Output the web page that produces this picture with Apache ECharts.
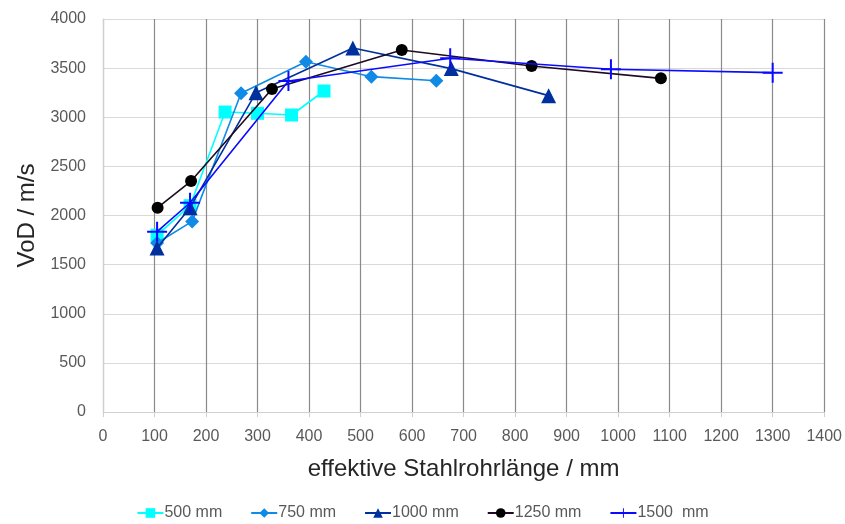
<!DOCTYPE html>
<html>
<head>
<meta charset="utf-8">
<script src="https://cdn.jsdelivr.net/npm/echarts@6/dist/echarts.min.js"></script>
<style>
  html, body { margin: 0; padding: 0; background: #ffffff; }
  #chart { width: 845px; height: 524px; }
</style>
</head>
<body>
<div id="chart"></div>
<script>
// Detonation velocity vs. effective steel tube length, one series per tube length
const seriesNames = ['500 mm', '750 mm', '1000 mm', '1250 mm', '1500  mm'];

const len500 = [105, 169, 237, 300, 366, 429];
const vod500 = [1800, 2100, 3053, 3040, 3023, 3267];

const len750 = [105, 173, 268, 394, 521, 647];
const vod750 = [1720, 1940, 3244, 3565, 3413, 3372];

const len1000 = [105, 169, 297, 485, 676, 865];
const vod1000 = [1670, 2080, 3250, 3705, 3495, 3220];

const len1250 = [106, 171, 328, 580, 832, 1083];
const vod1250 = [2080, 2351, 3287, 3684, 3522, 3396];

const len1500 = [105, 169, 360, 674, 986, 1300];
const vod1500 = [1835, 2130, 3369, 3600, 3488, 3454];

const xTicks = [0, 1400, 100];
const yTicks = [0, 4000, 500];

const pairs = (xs, ys) => xs.map((x, i) => [x, ys[i]]);

const plusPath = 'path://M-1,-10h2v20h-2z M-10,-1h20v2h-20z';

const styles = [
  { color: '#00ffff', symbol: 'rect', size: 13 },
  { color: '#0f8ae6', symbol: 'diamond', size: 14 },
  { color: '#00309e', symbol: 'triangle', size: 15 },
  { color: '#000000', symbol: 'circle', size: 12, line: '#1e0a22' },
  { color: '#0a0aff', symbol: plusPath, size: 20 }
];

const dataSets = [
  pairs(len500, vod500),
  pairs(len750, vod750),
  pairs(len1000, vod1000),
  pairs(len1250, vod1250),
  pairs(len1500, vod1500)
];

const plain = v => String(v);

const chart = echarts.init(document.getElementById('chart'), null, { renderer: 'canvas' });

chart.setOption({
  animation: false,
  backgroundColor: '#ffffff',
  textStyle: { fontFamily: 'Liberation Sans, Arial, sans-serif' },
  grid: { left: 103, right: 20, top: 19, bottom: 112, containLabel: false },
  xAxis: {
    type: 'value',
    min: xTicks[0], max: xTicks[1], interval: xTicks[2],
    name: 'effektive Stahlrohrlänge / mm',
    nameLocation: 'middle',
    nameGap: 45,
    nameTextStyle: { fontSize: 24, color: '#262626', fontFamily: 'Liberation Sans, Arial, sans-serif' },
    axisLine: { show: true, lineStyle: { color: '#d0d0d0', width: 1 } },
    axisTick: { show: true, length: 5, lineStyle: { color: '#d0d0d0' } },
    axisLabel: { fontSize: 16, color: '#595959', margin: 17, formatter: plain },
    splitLine: { show: true, lineStyle: { color: '#8a8a8a', width: 1.2 } }
  },
  yAxis: {
    type: 'value',
    min: yTicks[0], max: yTicks[1], interval: yTicks[2],
    name: 'VoD / m/s',
    nameLocation: 'middle',
    nameGap: 60,
    nameRotate: 90,
    nameTextStyle: { fontSize: 24, color: '#262626', fontFamily: 'Liberation Sans, Arial, sans-serif' },
    axisLine: { show: true, lineStyle: { color: '#d0d0d0', width: 1 } },
    axisTick: { show: false },
    axisLabel: { fontSize: 16, color: '#595959', margin: 17, formatter: plain },
    splitLine: { show: true, lineStyle: { color: '#d9d9d9', width: 1.2 } }
  },
  legend: {
    bottom: -2,
    left: 'center',
    itemGap: 28,
    itemWidth: 26,
    itemHeight: 12,
    textStyle: { fontSize: 16, color: '#595959', padding: [0, 0, 0, -4] },
    data: seriesNames
  },
  series: seriesNames.map((name, i) => ({
    name,
    type: 'line',
    data: dataSets[i],
    symbol: styles[i].symbol,
    symbolSize: styles[i].size,
    showAllSymbol: true,
    z: 2 + i,
    itemStyle: { color: styles[i].color },
    lineStyle: { color: styles[i].line || styles[i].color, width: 1.6 }
  }))
});
</script>
</body>
</html>
